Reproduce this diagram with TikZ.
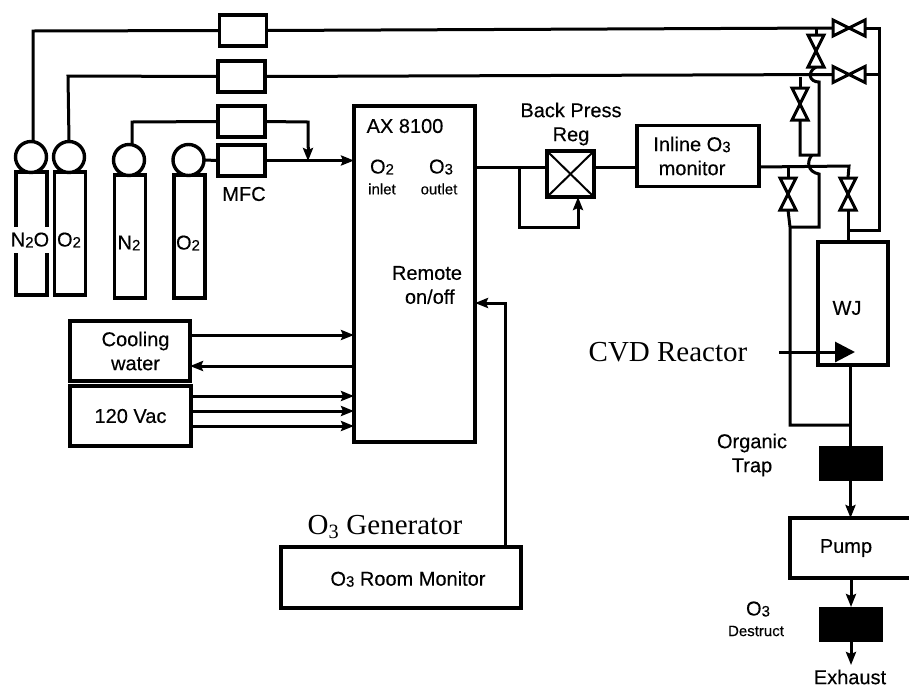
\documentclass[tikz,border=0pt]{standalone}
\usepackage{fontspec}
\setmainfont{Liberation Sans}[FakeBold=0.3]
\newfontfamily\rmlabel{Liberation Serif}
\usetikzlibrary{arrows.meta,positioning,calc}
\newcommand{\sbs}[1]{\raisebox{-1pt}{\fontsize{15}{15}\selectfont #1}}
\tikzset{
  box/.style    = {draw, line width=3.4pt, inner sep=0pt, outer sep=0pt, fill=white},
  solid box/.style = {draw, fill=black, inner sep=0pt, outer sep=0pt,
                  minimum width=63pt, minimum height=34pt},
  mfc/.style    = {box, minimum width=47pt, minimum height=31pt},
  cyl/.style    = {box, minimum width=31pt, minimum height=123pt},
  bulb/.style   = {circle, box, minimum size=31pt},
  pipe/.style   = {line width=3pt, line join=miter},
  ar/.style     = {pipe, -{Stealth[length=13pt, width=10pt, inset=2pt]}},
  vlvh/.style   = {inner sep=0pt, outer sep=0pt, minimum width=32pt, minimum height=16pt},
  vlvv/.style   = {inner sep=0pt, outer sep=0pt, minimum width=16pt, minimum height=32pt},
  lbl/.style    = {font=\fontsize{20}{24}\selectfont, inner sep=0pt, align=center},
  lone/.style   = {font=\fontsize{20}{20}\selectfont, inner sep=0pt},
  sm/.style     = {font=\fontsize{15}{18}\selectfont, inner sep=0pt},
  big/.style    = {font=\rmlabel\fontsize{29}{32}\selectfont, inner sep=0pt}
}
\newcommand{\valveh}[2]{\node[vlvh] (#1) at #2 {};
  \draw[pipe] (#1.north west) -- (#1.south east) -- (#1.north east)
    -- (#1.south west) -- cycle;}
\newcommand{\valvev}[2]{\node[vlvv] (#1) at #2 {};
  \draw[pipe] (#1.north west) -- (#1.north east) -- (#1.south west)
    -- (#1.south east) -- cycle;}
\begin{document}
\begin{tikzpicture}[x=1pt, y=-1pt]
\useasboundingbox (0,0) rectangle (909,689);

\node[cyl] (cylA) at (31.5,233.5) {};
\node[cyl] (cylB) at (70,233.5) {};
\node[cyl] (cylC) at (130,236.5) {};
\node[cyl] (cylD) at (189.5,236.5) {};
\node[bulb] (bulbA) at (31,157) {};
\node[bulb] (bulbB) at (69,157) {};
\node[bulb] (bulbC) at (129,160) {};
\node[bulb] (bulbD) at (188.5,160) {};
\node[lbl, fill=white, inner ysep=6pt] at (30,240) {N\sbs{2}O};
\node[lbl] at (69,240) {O\sbs{2}};
\node[lbl] at (129,243) {N\sbs{2}};
\node[lbl] at (188,243) {O\sbs{2}};

\node[mfc] (mfcA) at (243,30.5) {};
\node[mfc] (mfcB) at (241.5,76.5) {};
\node[mfc] (mfcC) at (241.5,121.5) {};
\node[mfc] (mfcD) at (241.5,160.5) {};
\node[lbl] at (244,194) {MFC};

\node[box, minimum width=121pt, minimum height=336pt] (ax) at (414.5,274) {};
\node[lbl] at (405,126) {AX 8100};
\node[lbl] at (382,167) {O\sbs{2}};
\node[sm] at (382,189) {inlet};
\node[lbl] at (441,167) {O\sbs{3}};
\node[sm] at (439,189) {outlet};
\node[lbl] at (427,285) {Remote\\\ on/off};

\node[box, minimum width=47pt, minimum height=46pt] (bpr) at (570.5,174) {};
\draw[line width=2pt] (bpr.north west) -- (bpr.south east);
\draw[line width=2pt] (bpr.north east) -- (bpr.south west);
\node[lbl] at (571,124) {Back Press\\Reg};
\node[box, minimum width=122pt, minimum height=61pt] (mon) at (698,156) {};
\node[lbl] at (692,156) {Inline O\sbs{3}\\monitor};

\node[box, lbl, minimum width=120pt, minimum height=60pt] (cool) at (130,351) {\ \ Cooling\\\ \ water};
\node[box, lbl, minimum width=121pt, minimum height=60pt] (vac) at (130.5,416) {120 Vac};
\node[box, minimum width=240pt, minimum height=61pt] (room) at (401,577.5) {};
\node[lbl] at (408,579) {O\sbs{3} Room Monitor};
\node[big] at (385,527) {O\textsubscript{3} Generator};

\node[box, minimum width=70pt, minimum height=123pt] (wj) at (853,303.5) {};
\node[lbl] at (847,308) {WJ};
\node[big] at (668,352) {CVD Reactor};
\node[solid box] (trap) at (850.5,463.5) {};
\node[lbl] at (752,455) {Organic\\Trap};
\node[box, minimum width=126pt, minimum height=60pt] (pump) at (853,548) {};
\node[lbl] at (846,548) {Pump};
\node[solid box] (dstr) at (851,624) {};
\node[lbl] at (758,609) {O\sbs{3}};
\node[sm] at (756,631) {Destruct};
\node[lone] at (850,677) {Exhaust};

\valveh{vlvA}{(849,28)}
\valveh{vlvB}{(849,74.5)}
\valvev{vlvC}{(816,51)}
\valvev{vlvD}{(800,104)}
\valvev{vlvE}{(788,194)}
\valvev{vlvF}{(848,194)}

\coordinate (pipeA) at (0,167);
\coordinate (hopA) at (819,82);
\coordinate (hopB) at (819,174);
\coordinate (rise) at (879,230);
\coordinate (by) at (790,425);

\draw[pipe] (bulbA.north -| 33,0) -- (33,31) -- (mfcA.west);
\draw[pipe] (mfcA.east) -- (vlvA.west);
\draw[pipe] (vlvA.east) -- (879,28) -- (rise) -- (rise -| vlvF);
\draw[pipe] (vlvC.north) -- (vlvC.north |- vlvA.west);
\draw[pipe] (bulbB.north) -- (68,76) -- (mfcB.west);
\draw[pipe] (mfcB.east) -- (vlvB.west);
\draw[pipe] (vlvB.east) -- (vlvB.east -| rise);
\draw[pipe] (vlvC.south) .. controls (807,72) and (809,82) .. (hopA) -- (819,155) -- (800,155) -- (vlvD.south);
\draw[pipe] (vlvD.north) -- (vlvD.north |- mfcB.east);
\draw[pipe] (812,155) .. controls (806,162) and (808,172) .. (hopB) -- (819,227) -- (790,227);

\draw[pipe] (bulbC.north -| 132,0) -- (132,122) -- (mfcC.west);
\draw[pipe] (mfcC.east) -- (308,122) -- (308,148);
\draw[ar] (308,147) -- (308,161);
\draw[pipe] (bulbD.east) -- (mfcD.west);
\draw[ar] (mfcD.east) -- (ax.west |- mfcD.east);

\draw[pipe] (ax.east |- pipeA) -- (bpr.west |- pipeA);
\draw[pipe] (bpr.east |- pipeA) -- (mon.west |- pipeA);
\draw[pipe] (519,167) -- (519,227) -- (578,227) -- (578,215);
\draw[ar] (578,216) -- (bpr.south -| 578,0);
\draw[pipe] (mon.east |- pipeA) -- (849,166) -- (vlvF.north);
\draw[pipe] (vlvE.north) -- (vlvE.north |- 0,166);
\draw[pipe] (vlvF.south) -- (vlvF.south |- wj.north);
\draw[pipe] (vlvE.south) -- (790,227) -- (by) -- (by -| trap);

\draw[ar] (cool.east |- 0,335) -- (ax.west |- 0,335);
\draw[ar] (ax.west |- 0,366) -- (cool.east |- 0,366);
\foreach \yy in {396,411,426}
  \draw[ar] (vac.east |- 0,\yy) -- (ax.west |- 0,\yy);
\draw[ar] (room.north -| 505,0) -- (505,303) -- (ax.east |- 0,303);

\draw[pipe, -{Triangle[length=20pt, width=20pt]}] (779,352) -- (855,352);
\draw[pipe] (wj.south -| trap) -- (trap.north);
\draw[ar] (trap.south) -- (pump.north -| trap);
\draw[ar] (pump.south -| dstr) -- (dstr.north);
\coordinate (out) at (dstr.south |- 0,665);
\draw[ar] (dstr.south) -- (out);
\end{tikzpicture}
\end{document}
